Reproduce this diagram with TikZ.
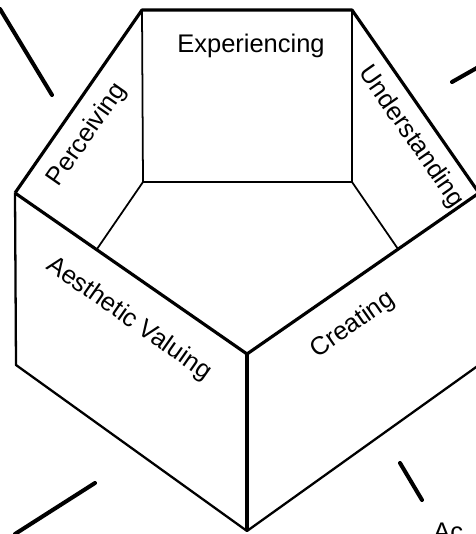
\documentclass[tikz,border=0pt]{standalone}
\usepackage{fontspec}
\setmainfont{Liberation Sans}
\tikzset{
  rim/.style={line width=1.8pt, line join=round},
  wall/.style={line width=1.3pt, line join=round},
  fold/.style={line width=1pt},
  ray/.style={line width=2.3pt, line cap=round},
  facelabel/.style={inner sep=0pt, font=\fontsize{14.5}{17}\selectfont}
}
\begin{document}
\begin{tikzpicture}[x=0.02cm,y=0.02cm]
\useasboundingbox (0,0) rectangle (476,534);

% back wall and the open top
\draw[rim] (15,341) -- (142,524) -- (352,524) -- (479,341);
\draw[fold] (142,524) -- (143,352) -- (352,352) -- (352,524);
\draw[fold] (143,352) -- (97,285);
\draw[fold] (352,352) -- (398,285);

% front walls
\draw[rim] (15,341) -- (247,180) -- (479,341);
\draw[rim] (247,180) -- (247,3);
\draw[wall] (15,341) -- (16,169) -- (247,3) -- (479,169) -- (479,341);

\node[facelabel] (exp) at (251,488) {Experiencing};
\node[facelabel, rotate=55] (perc) at (87,399) {Perceiving};
\node[facelabel, rotate=-55] (und) at (411,397) {Understanding};
\node[facelabel, rotate=-35] (aes) at (129,215) {Aesthetic Valuing};
\node[facelabel, rotate=35] (cre) at (353,209) {Creating};

% strokes round the box
\draw[ray] (0,525) -- (52,439);
\draw[ray] (452,452) -- (482,469);
\draw[ray] (95,51) -- (15,0);
\draw[ray] (400,71) -- (422,34);

\node[facelabel, anchor=base west] (act) at (433,-7) {Ac};
\end{tikzpicture}
\end{document}
